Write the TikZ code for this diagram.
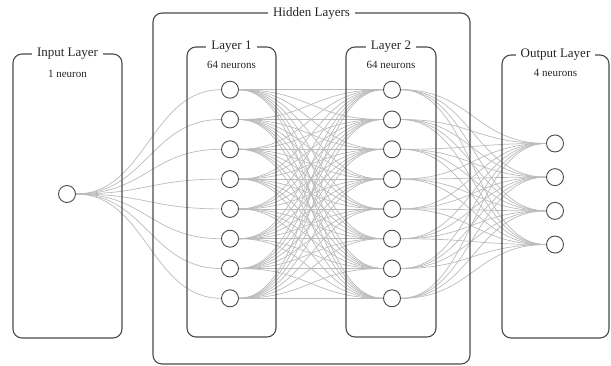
\documentclass[tikz,border=0pt]{standalone}
\usepackage{fontspec}
\setmainfont{Liberation Serif}
\definecolor{boxc}{HTML}{4A4A4A}
\definecolor{edgec}{HTML}{BBBBBB}
\pgfdeclarelayer{bg}
\pgfsetlayers{bg,main}
\begin{document}
\begin{tikzpicture}[x=1pt,y=-1pt,
  box/.style={draw=boxc, line width=1.1pt, rounded corners=9pt},
  ttl/.style={fill=white, inner xsep=5pt, inner ysep=1pt, text=black!85, font=\fontsize{13}{15}\selectfont},
  sub/.style={inner sep=1pt, text=black!85, font=\fontsize{11}{13}\selectfont},
  neuron/.style={circle, draw=boxc, fill=white, line width=0.9pt, minimum size=17pt, inner sep=0pt},
  conn/.style={draw=edgec, line width=0.7pt}]
\useasboundingbox (0,0) rectangle (611,366);

% neurons
\node[neuron] (in) at (67,194) {};
\foreach \i in {1,...,8} {
  \node[neuron] (a\i) at (230,{194+(\i-4.5)*29.8}) {};
  \node[neuron] (b\i) at (392,{194+(\i-4.5)*29.8}) {};
}
\foreach \j in {1,...,4} {
  \node[neuron] (o\j) at (555,{194+(\j-2.5)*33.7}) {};
}

\begin{pgfonlayer}{bg}
  % connections
  \foreach \i in {1,...,8} {
    \draw[conn] (in.east) .. controls +(70,0) and +(-70,0) .. (a\i.west);
    \foreach \k in {1,...,8} {
      \draw[conn] (a\i.east) .. controls +(70,0) and +(-70,0) .. (b\k.west);
    }
    \foreach \j in {1,...,4} {
      \draw[conn] (b\i.east) .. controls +(70,0) and +(-70,0) .. (o\j.west);
    }
  }
  % boxes
  \draw[box] (13,54) rectangle (122,338);
  \draw[box] (153,13) rectangle (470,364);
  \draw[box] (187,47) rectangle (276,337);
  \draw[box] (346,47) rectangle (436,337);
  \draw[box] (502,55) rectangle (609,338);
\end{pgfonlayer}

% titles
\node[ttl] (tin) at (67.5,54) {Input Layer};
\node[ttl] (thid) at (311.5,13) {Hidden Layers};
\node[ttl] (tl1) at (231.5,47) {Layer 1};
\node[ttl] (tl2) at (391,47) {Layer 2};
\node[ttl] (tout) at (555.5,55) {Output Layer};
\node[sub] (sin) at (67.5,74) {1 neuron};
\node[sub] (sl1) at (231.5,65) {64 neurons};
\node[sub] (sl2) at (391,65) {64 neurons};
\node[sub] (sout) at (555.5,73) {4 neurons};
\end{tikzpicture}
\end{document}
